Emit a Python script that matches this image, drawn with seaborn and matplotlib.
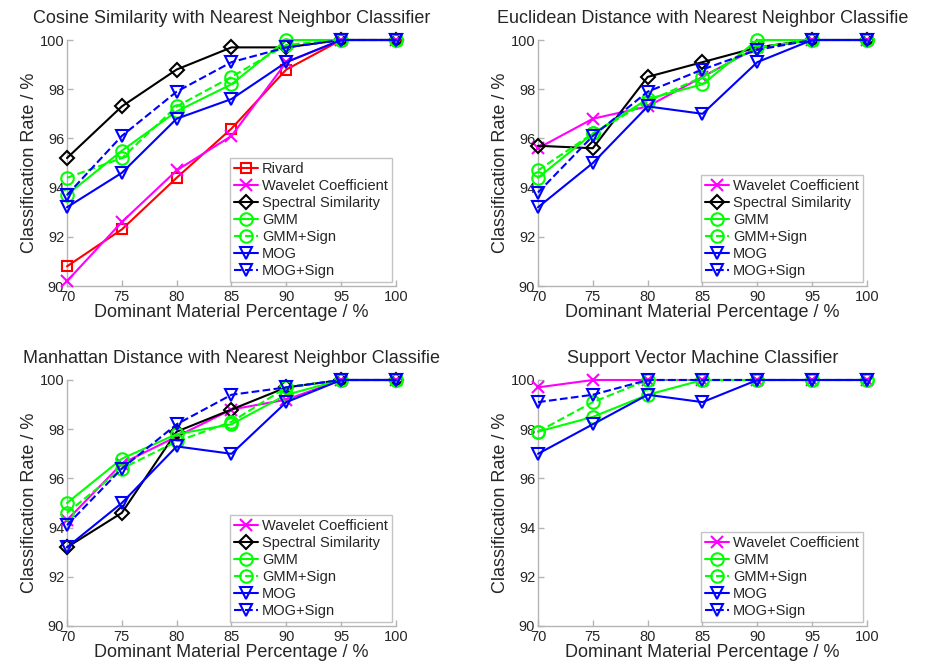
import numpy as np
import pandas as pd
import matplotlib
matplotlib.use("Agg")
import matplotlib.pyplot as plt
import seaborn as sns

sns.set_style("ticks")
plt.rcParams['font.family'] = ['Liberation Sans', 'DejaVu Sans']

x_vals = [70, 75, 80, 85, 90, 95, 100]

# Cosine Similarity
cos_rivard = [90.8, 92.3, 94.4, 96.4, 98.8, 100, 100]
cos_wavelet = [90.2, 92.6, 94.7, 96.1, 99.1, 100, 100]
cos_spectral = [95.2, 97.3, 98.8, 99.7, 99.7, 100, 100]
cos_gmm = [93.7, 95.5, 97.1, 98.2, 100, 100, 100]
cos_gmm_sign = [94.4, 95.2, 97.3, 98.5, 99.8, 100, 100]
cos_mog = [93.2, 94.6, 96.8, 97.6, 99.1, 100, 100]
cos_mog_sign = [93.7, 96.1, 97.9, 99.1, 99.7, 100, 100]

# Euclidean Distance
euc_wavelet = [95.6, 96.8, 97.3, 98.5, 99.7, 100, 100]
euc_spectral = [95.7, 95.6, 98.5, 99.1, 99.7, 100, 100]
euc_gmm = [94.4, 96.2, 97.6, 98.2, 100, 100, 100]
euc_gmm_sign = [94.7, 96.2, 97.5, 98.5, 99.7, 100, 100]
euc_mog = [93.2, 95.0, 97.3, 97.0, 99.1, 100, 100]
euc_mog_sign = [93.8, 96.1, 97.9, 98.8, 99.6, 100, 100]

# Manhattan Distance
man_wavelet = [94.3, 96.6, 97.7, 98.8, 99.2, 100, 100]
man_spectral = [93.2, 94.6, 97.9, 98.8, 99.7, 100, 100]
man_gmm = [95.0, 96.8, 97.8, 98.2, 99.4, 100, 100]
man_gmm_sign = [94.6, 96.4, 97.5, 98.3, 99.7, 100, 100]
man_mog = [93.2, 95.0, 97.3, 97.0, 99.1, 100, 100]
man_mog_sign = [94.1, 96.4, 98.2, 99.4, 99.7, 100, 100]

# Support Vector Machine
svm_wavelet = [99.7, 100, 100, 100, 100, 100, 100]
svm_gmm = [97.9, 98.5, 99.4, 100, 100, 100, 100]
svm_gmm_sign = [97.9, 99.1, 100, 100, 100, 100, 100]
svm_mog = [97.0, 98.2, 99.4, 99.1, 100, 100, 100]
svm_mog_sign = [99.1, 99.4, 100, 100, 100, 100, 100]

titles = ["Cosine Similarity with Nearest Neighbor Classifier",
          "Euclidean Distance with Nearest Neighbor Classifie",
          "Manhattan Distance with Nearest Neighbor Classifie",
          "Support Vector Machine Classifier"]
x_label = "Dominant Material Percentage / %"
y_label = "Classification Rate / %"

styles = {
    "Rivard": ("#ff0000", "s", "-"),
    "Wavelet Coefficient": ("#ff00ff", "x", "-"),
    "Spectral Similarity": ("#000000", "D", "-"),
    "GMM": ("#00ff00", "o", "-"),
    "GMM+Sign": ("#00ff00", "o", "--"),
    "MOG": ("#0000ff", "v", "-"),
    "MOG+Sign": ("#0000ff", "v", "--"),
}

panels = [
    {"Rivard": cos_rivard, "Wavelet Coefficient": cos_wavelet, "Spectral Similarity": cos_spectral,
     "GMM": cos_gmm, "GMM+Sign": cos_gmm_sign, "MOG": cos_mog, "MOG+Sign": cos_mog_sign},
    {"Wavelet Coefficient": euc_wavelet, "Spectral Similarity": euc_spectral,
     "GMM": euc_gmm, "GMM+Sign": euc_gmm_sign, "MOG": euc_mog, "MOG+Sign": euc_mog_sign},
    {"Wavelet Coefficient": man_wavelet, "Spectral Similarity": man_spectral,
     "GMM": man_gmm, "GMM+Sign": man_gmm_sign, "MOG": man_mog, "MOG+Sign": man_mog_sign},
    {"Wavelet Coefficient": svm_wavelet,
     "GMM": svm_gmm, "GMM+Sign": svm_gmm_sign, "MOG": svm_mog, "MOG+Sign": svm_mog_sign},
]

W, H = 925, 661
fig = plt.figure(figsize=(W / 100, H / 100), dpi=100)
boxes = [(67, 40, 396, 286), (538, 40, 867, 286), (67, 380, 396, 626), (538, 380, 867, 626)]

axis_gray = "#b4b4b4"
for i, (box, series) in enumerate(zip(boxes, panels)):
    l, t, r, b = box
    ax = fig.add_axes([l / W, 1 - b / H, (r - l) / W, (b - t) / H])
    for name, vals in series.items():
        color, marker, ls = styles[name]
        df = pd.DataFrame({"x": x_vals, "y": vals})
        ms = 9 if marker in ("o", "v") else (7 if marker in ("s", "D") else 8)
        sns.lineplot(data=df, x="x", y="y", ax=ax, color=color, marker=marker,
                     linestyle=ls, linewidth=1.5, markersize=ms,
                     markerfacecolor="none", markeredgecolor=color,
                     markeredgewidth=1.5, label=name, clip_on=False, zorder=3)
    ax.set_xlim(70, 100)
    ax.set_ylim(90, 100)
    ax.set_xticks(np.arange(70, 101, 5))
    ax.set_yticks(np.arange(90, 101, 2))
    ax.set_xlabel(x_label, fontsize=13, labelpad=0)
    ax.set_ylabel(y_label, fontsize=13, labelpad=1)
    ax.set_title(titles[i], fontsize=13, pad=12)
    sns.despine(ax=ax)
    for sp in ("left", "bottom"):
        ax.spines[sp].set_color(axis_gray)
        ax.spines[sp].set_linewidth(1.0)
    ax.tick_params(direction="in", length=4, width=1.0, color=axis_gray,
                   labelsize=10.5, pad=2)
    ax.tick_params(axis="x", pad=3)
    leg = ax.legend(loc="lower right", fontsize=10.5, frameon=True, fancybox=False,
                    borderpad=0.3, labelspacing=0.2, handlelength=1.6,
                    handletextpad=0.3, borderaxespad=0.25)
    leg.get_frame().set_edgecolor(axis_gray)
    leg.get_frame().set_linewidth(1.0)

fig.savefig("out.png", dpi=100)
